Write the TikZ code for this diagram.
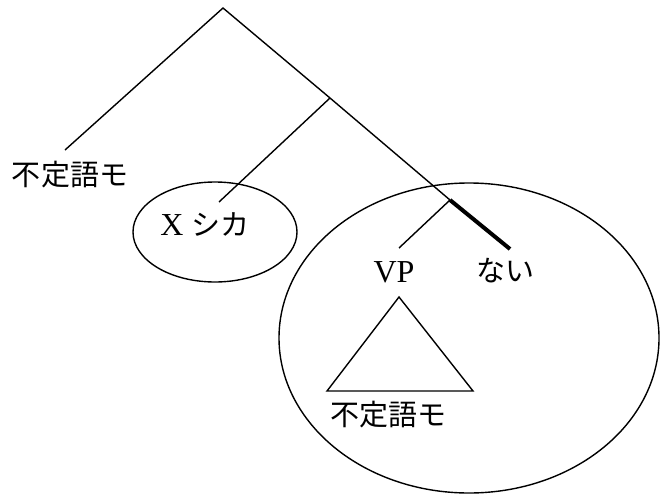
\documentclass[tikz,border=0pt]{standalone}
\usepackage{fontspec}
\setmainfont{Liberation Serif}
\newfontfamily\jp{Noto Sans CJK JP}
\usepackage{tikz}
\usetikzlibrary{positioning, calc}

\tikzset{
	label/.style={inner sep=0pt, font=\fontsize{29}{34}\selectfont},
	latin/.style={inner sep=0pt, font=\fontsize{32}{36}\selectfont},
	branch/.style={line width=1.4pt},
	headline/.style={line width=4pt}
}

\begin{document}
\begin{tikzpicture}[x=1pt, y=-1pt]
\useasboundingbox (0,0) rectangle (660,495);

% branching points of the tree
\coordinate (root) at (223,8);
\coordinate (mid) at (330,98);
\coordinate (neg) at (450,200);
\coordinate (moEnd) at (65,150);
\coordinate (shikaEnd) at (219,202);
\coordinate (vpEnd) at (399,248);
\coordinate (naiEnd) at (510,249);

% labels
\node[label] (mo) at (70,175) {\jp 不定語モ};
\node[latin] (shika) at (205,224) {X {\fontsize{29}{34}\jp シカ}};
\node[latin] (vp) at (394,272) {VP};
\node[label] (nai) at (505,271) {\jp ない};
\node[label] (moLow) at (388,415) {\jp 不定語モ};

% tree
\draw[branch] (moEnd) -- (root) -- (mid) -- (neg);
\draw[branch] (mid) -- (shikaEnd);
\draw[branch] (neg) -- (vpEnd);
\draw[headline] (neg) -- (naiEnd);

% triangle under VP
\draw[branch] (399,297) -- (473,391) -- (327,391) -- cycle;

% circled parts
\draw[branch] (215,232) ellipse [x radius=82, y radius=50];
\draw[branch] (469,338) ellipse [x radius=190, y radius=155];

\end{tikzpicture}
\end{document}
